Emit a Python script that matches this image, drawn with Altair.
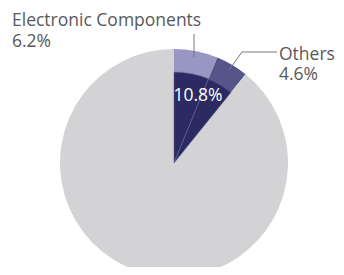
import altair as alt
import pandas as pd

segments = ["Electronic Components", "Others", "Rest"]
values = [6.2, 4.6, 89.2]
outer_colors = ["#9896c2", "#55548b", "#d3d3d5"]
inner_segments = ["Electronic Components", "Others"]
inner_total_label = "10.8%"
label_ec = ["Electronic Components", "6.2%"]
label_ot = ["Others", "4.6%"]

df = pd.DataFrame({"segment": segments, "value": values})
df["end"] = df["value"].cumsum()
df["start"] = df["end"] - df["value"]

CX, CY = 166, 155
R_OUT, R_IN = 114, 91
FONT = "Open Sans"
FS = 17.5
TXT = "#58595b"
LINE = "#767676"

theta_scale = alt.Scale(domain=[0, 100], range=[0, 6.283185307])

base = alt.Chart(df)

outer = base.mark_arc(outerRadius=R_OUT).encode(
    theta=alt.Theta("start:Q", scale=theta_scale),
    theta2="end:Q",
    color=alt.Color("segment:N", scale=alt.Scale(domain=segments, range=outer_colors), legend=None),
    x=alt.value(CX), y=alt.value(CY),
)

inner = base.transform_filter(
    alt.FieldOneOfPredicate(field="segment", oneOf=inner_segments)
).mark_arc(outerRadius=R_IN, color="#2b2a62", stroke="#6a6a98", strokeWidth=0.6).encode(
    theta=alt.Theta("start:Q", scale=theta_scale),
    theta2="end:Q",
    x=alt.value(CX), y=alt.value(CY),
)

def text(s, x, y, color=TXT, align="left"):
    return alt.Chart(pd.DataFrame({"t": [s]})).mark_text(
        font=FONT, fontSize=FS, color=color, align=align, baseline="alphabetic"
    ).encode(text="t:N", x=alt.value(x), y=alt.value(y))

def rule(x1, y1, x2, y2):
    return alt.Chart(pd.DataFrame({"a": [0]})).mark_rule(color=LINE, strokeWidth=1).encode(
        x=alt.value(x1), y=alt.value(y1), x2=alt.value(x2), y2=alt.value(y2)
    )

layers = [
    outer, inner,
    text(inner_total_label, 190, 93, color="white", align="center"),
    text(label_ec[0], 4, 18), text(label_ec[1], 4, 39),
    text(label_ot[0], 271, 52), text(label_ot[1], 271, 72),
    rule(186, 26, 186, 49),
    rule(234, 44, 269, 44),
    rule(234, 44, 221, 62),
]

chart = alt.layer(*layers).properties(
    width=328, height=259, autosize="none", padding=0
).configure_view(stroke=None)

chart.save("out.html", embed_options={"renderer": "svg", "actions": False})
